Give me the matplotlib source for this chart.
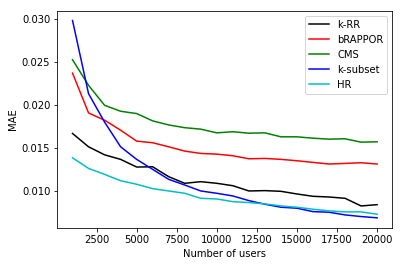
import numpy as np
import matplotlib
matplotlib.use('Agg')
import matplotlib.pyplot as plt

n_users = np.arange(1000, 20001, 1000)

krr = [0.01668, 0.01513, 0.0142, 0.01367, 0.01278, 0.01281, 0.01166, 0.01089, 0.01108, 0.01089,
       0.01061, 0.0100, 0.01004, 0.00996, 0.00965, 0.00938, 0.0093, 0.00915, 0.00826, 0.00841]
brappor = [0.02369, 0.01906, 0.01822, 0.01706, 0.01579, 0.0156, 0.01513, 0.01463, 0.01436, 0.01428,
           0.01409, 0.01374, 0.01378, 0.01367, 0.01351, 0.01332, 0.01313, 0.0132, 0.01328, 0.01313]
cms = [0.02524, 0.02227, 0.01995, 0.01926, 0.01899, 0.01814, 0.01767, 0.01735, 0.01718, 0.01675,
       0.01688, 0.01671, 0.01675, 0.01629, 0.01629, 0.01613, 0.01602, 0.01606, 0.01567, 0.01571]
ksubset = [0.0298, 0.0213, 0.0180, 0.01513, 0.01367, 0.01251, 0.01135, 0.01069, 0.0100, 0.00973,
           0.00942, 0.00888, 0.00846, 0.00811, 0.0080, 0.0076, 0.00753, 0.00722, 0.00703, 0.00688]
hr = [0.01385, 0.01262, 0.01193, 0.01119, 0.01078, 0.01027, 0.0100, 0.00973, 0.00915, 0.00907,
      0.00876, 0.00865, 0.0085, 0.00826, 0.00811, 0.00788, 0.00769, 0.00757, 0.00757, 0.0073]

fig = plt.figure(figsize=(402 / 72, 266 / 72), dpi=72)
ax = fig.add_axes([0.1425, 0.144, 0.976 - 0.1425, 0.96 - 0.144])

ax.plot(n_users, krr, color='k', label='k-RR')
ax.plot(n_users, brappor, color='r', label='bRAPPOR')
ax.plot(n_users, cms, color='g', label='CMS')
ax.plot(n_users, ksubset, color='b', label='k-subset')
ax.plot(n_users, hr, color='c', label='HR')

ax.set_xlabel('Number of users')
ax.set_ylabel('MAE')
ax.legend(loc='upper right')

fig.savefig('out.png', dpi=72)
